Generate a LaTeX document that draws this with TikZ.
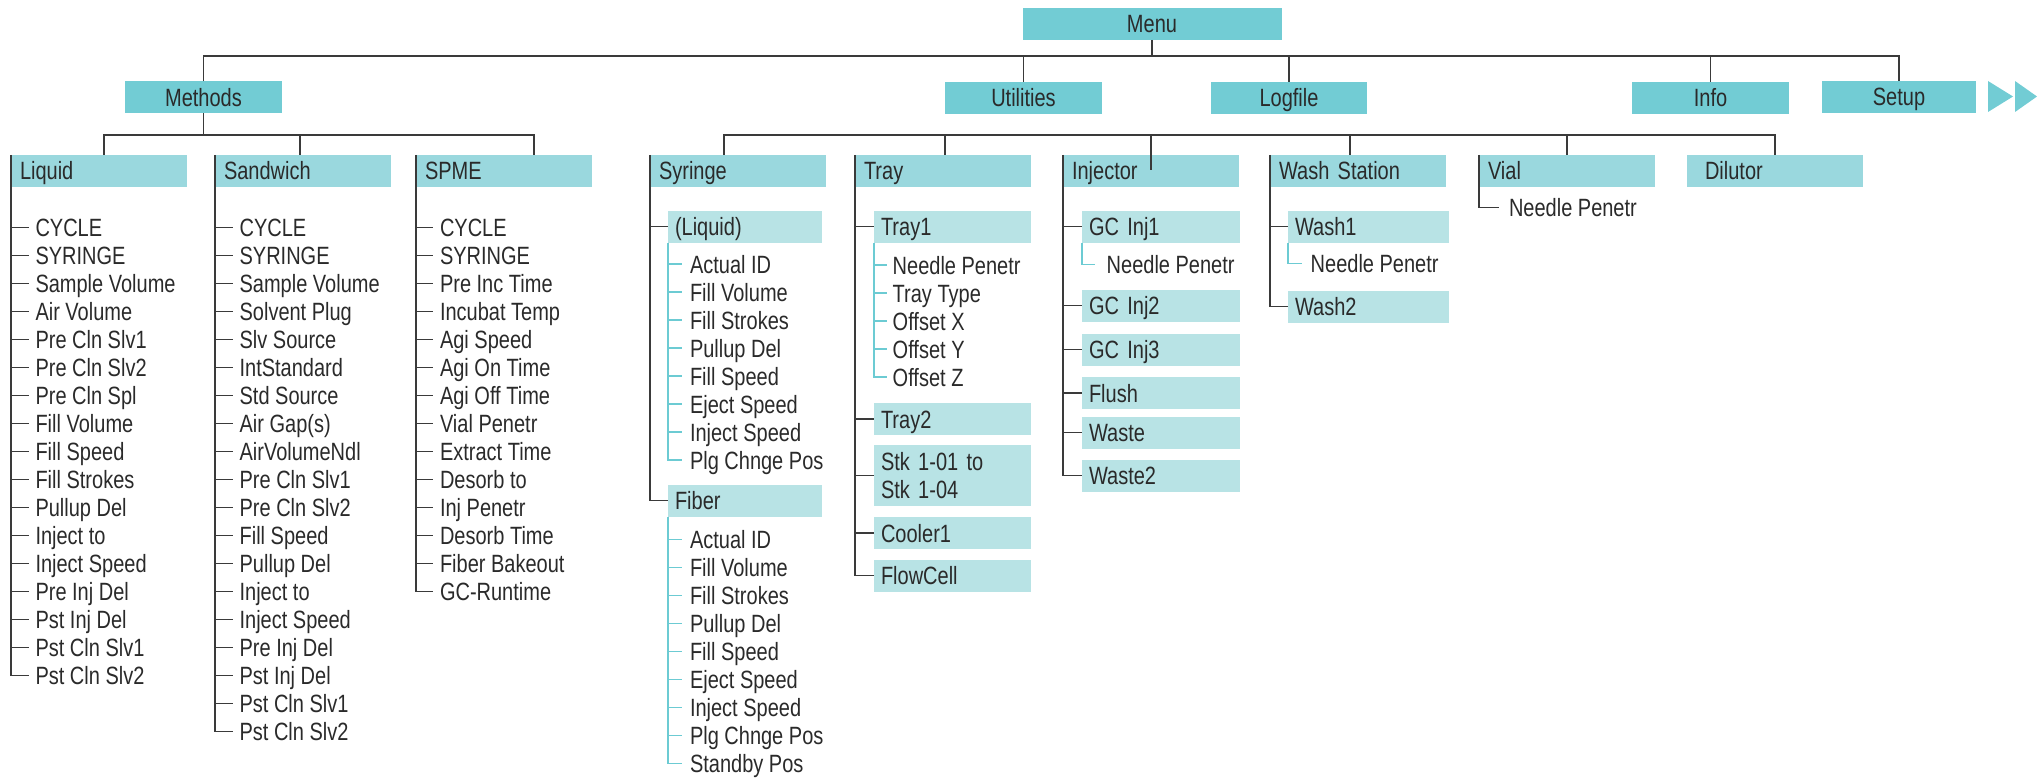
\documentclass[tikz,border=0pt]{standalone}
\usepackage{fontspec}
\setmainfont{Liberation Sans}[FakeStretch=0.8]
\definecolor{topcyan}{HTML}{72CCD4}
\definecolor{midcyan}{HTML}{9AD8DE}
\definecolor{lightcyan}{HTML}{B8E3E5}
\definecolor{linegray}{HTML}{3A3A3A}
\definecolor{linecyan}{HTML}{6CCBD3}
\definecolor{textgray}{HTML}{2A2A2A}

\begin{document}
\begin{tikzpicture}[x=1pt,y=-1pt,
    font=\fontsize{25}{28.4}\selectfont, text=textgray,
    every node/.style={outer sep=0pt},
    topbox/.style={fill=topcyan, minimum height=32pt, inner sep=0pt, text height=18pt, text depth=0pt},
    groupbox/.style={fill=midcyan, anchor=north west, minimum height=32pt, inner xsep=9pt, inner ysep=0pt,
        text width=158pt, align=left, text height=18pt, text depth=0pt},
    subbox/.style={fill=lightcyan, anchor=north west, minimum height=31.5pt, inner xsep=7pt, inner ysep=0pt,
        text width=#1, align=left, text height=18pt, text depth=0pt},
    subbox/.default=143pt,
    entry/.style={anchor=west, inner sep=0pt, text height=18pt, text depth=0pt},
    conn/.style={draw=linegray, line width=1.3pt},
    subconn/.style={draw=linecyan, line width=1.1pt}]
  \useasboundingbox (0,0) rectangle (2037,778);

  \node[topbox, minimum width=259pt] (menu) at (1152,24) {Menu};
  \node[topbox, minimum width=157pt] (methods) at (203.5,97.5) {Methods};
  \node[topbox, minimum width=157pt] (utilities) at (1023.5,98) {Utilities};
  \node[topbox, minimum width=156pt] (logfile) at (1289,98) {Logfile};
  \node[topbox, minimum width=157pt] (info) at (1710.5,98) {Info};
  \node[topbox, minimum width=154pt] (setup) at (1899,97) {Setup};
  \fill[topcyan] ([xshift=12pt]setup.north east) -- ++(25,15.5) -- ++(-25,15.5) -- cycle;
  \fill[topcyan] ([xshift=39pt]setup.north east) -- ++(22,15.5) -- ++(-22,15.5) -- cycle;

  \draw[conn] (methods.north) -- ++(0,-25.5) -| (setup.north);
  \draw[conn] (menu.south) -- ++(0,16);
  \draw[conn] (utilities.north) -- ++(0,-26);
  \draw[conn] (logfile.north) -- ++(0,-26);
  \draw[conn] (info.north) -- ++(0,-26);

  \node[groupbox] (liquid) at (11,155) {Liquid};
  \node[groupbox] (sandwich) at (215,155) {Sandwich};
  \node[groupbox] (spme) at (416,155) {SPME};
  \node[groupbox] (syringe) at (650,155) {Syringe};
  \node[groupbox] (tray) at (855,155) {Tray};
  \node[groupbox] (injector) at (1063,155) {Injector};
  \node[groupbox] (washst) at (1270,155) {Wash Station};
  \node[groupbox] (vial) at (1479,155) {Vial};
  \node[groupbox, inner xsep=18pt, text width=140pt] (dilutor) at (1687,155) {Dilutor};

  \draw[conn] (methods.south) -- ++(0,22);
  \draw[conn] ([xshift=5pt]liquid.north) -- ++(0,-20) -| ([xshift=30pt]spme.north);
  \draw[conn] ([xshift=-3pt]sandwich.north) -- ++(0,-20);

  \draw[conn] ([xshift=-14pt]syringe.north) -- ++(0,-20) -| (dilutor.north);
  \draw[conn] ([xshift=2pt]tray.north) -- ++(0,-20);
  \draw[conn] (injector.north) ++(0,-20) -- ++(0,35);
  \draw[conn] ([xshift=-8pt]washst.north) -- ++(0,-20);
  \draw[conn] (vial.north) -- ++(0,-20);

  \foreach \t [count=\i] in {CYCLE, SYRINGE, Sample Volume, Air Volume, Pre Cln Slv1, Pre Cln Slv2,
      Pre Cln Spl, Fill Volume, Fill Speed, Fill Strokes, Pullup Del, Inject to, Inject Speed,
      Pre Inj Del, Pst Inj Del, Pst Cln Slv1, Pst Cln Slv2} {
    \node[entry] (liq-\i) at (35.5,{199.7+28*\i}) {\t};
    \draw[conn] (liquid.north west |- liq-\i.west) -- ([xshift=-7pt]liq-\i.west);
  }
  \draw[conn] (liquid.north west) |- ([xshift=-7pt]liq-17.west);

  \foreach \t [count=\i] in {CYCLE, SYRINGE, Sample Volume, Solvent Plug, Slv Source, IntStandard,
      Std Source, Air Gap(s), AirVolumeNdl, Pre Cln Slv1, Pre Cln Slv2, Fill Speed, Pullup Del,
      Inject to, Inject Speed, Pre Inj Del, Pst Inj Del, Pst Cln Slv1, Pst Cln Slv2} {
    \node[entry] (sw-\i) at (239.6,{199.7+28*\i}) {\t};
    \draw[conn] (sandwich.north west |- sw-\i.west) -- ([xshift=-7pt]sw-\i.west);
  }
  \draw[conn] (sandwich.north west) |- ([xshift=-7pt]sw-19.west);

  \foreach \t [count=\i] in {CYCLE, SYRINGE, Pre Inc Time, Incubat Temp, Agi Speed, Agi On Time,
      Agi Off Time, Vial Penetr, Extract Time, Desorb to, Inj Penetr, Desorb Time, Fiber Bakeout,
      GC-Runtime} {
    \node[entry] (sp-\i) at (440,{199.7+28*\i}) {\t};
    \draw[conn] (spme.north west |- sp-\i.west) -- ([xshift=-7pt]sp-\i.west);
  }
  \draw[conn] (spme.north west) |- ([xshift=-7pt]sp-14.west);

  \node[subbox=140pt] (syrliq) at (668,211) {(Liquid)};
  \node[subbox=140pt] (fiber) at (668,485) {Fiber};
  \draw[conn] (syringe.north west |- syrliq.west) -- (syrliq.west);
  \draw[conn] (syringe.north west) |- (fiber.west);
  \foreach \t [count=\i] in {Actual ID, Fill Volume, Fill Strokes, Pullup Del, Fill Speed,
      Eject Speed, Inject Speed, Plg Chnge Pos} {
    \node[entry] (sl-\i) at (690,{236+28*\i}) {\t};
    \draw[subconn] (syrliq.south west |- sl-\i.west) -- ([xshift=-8pt]sl-\i.west);
  }
  \draw[subconn] (syrliq.south west) |- ([xshift=-8pt]sl-8.west);
  \foreach \t [count=\i] in {Actual ID, Fill Volume, Fill Strokes, Pullup Del, Fill Speed,
      Eject Speed, Inject Speed, Plg Chnge Pos, Standby Pos} {
    \node[entry] (fb-\i) at (690,{511.3+28*\i}) {\t};
    \draw[subconn] (fiber.south west |- fb-\i.west) -- ([xshift=-8pt]fb-\i.west);
  }
  \draw[subconn] (fiber.south west) |- ([xshift=-8pt]fb-9.west);

  \node[subbox] (tray1) at (874,211) {Tray1};
  \node[subbox] (tray2) at (874,403.3) {Tray2};
  \node[subbox, text depth=28.4pt, minimum height=60.7pt] (stk) at (874,445) {Stk 1-01 to\\Stk 1-04};
  \node[subbox] (cooler) at (874,517.3) {Cooler1};
  \node[subbox] (flowcell) at (874,560) {FlowCell};
  \foreach \n in {tray1,tray2,stk,cooler}
    \draw[conn] (tray.north west |- \n.west) -- (\n.west);
  \draw[conn] (tray.north west) |- (flowcell.west);
  \foreach \t [count=\i] in {Needle Penetr, Tray Type, Offset X, Offset Y, Offset Z} {
    \node[entry] (tr-\i) at (892.7,{237+28*\i}) {\t};
    \draw[subconn] (tray1.south west |- tr-\i.west) -- ([xshift=-6pt]tr-\i.west);
  }
  \draw[subconn] (tray1.south west) |- ([xshift=-6pt]tr-5.west);

  \node[subbox=144pt] (gcinj1) at (1082,211) {GC Inj1};
  \node[subbox=144pt] (gcinj2) at (1082,290) {GC Inj2};
  \node[subbox=144pt] (gcinj3) at (1082,334) {GC Inj3};
  \node[subbox=144pt] (flush) at (1082,377.3) {Flush};
  \node[subbox=144pt] (waste) at (1082,417) {Waste};
  \node[subbox=144pt] (waste2) at (1082,460) {Waste2};
  \foreach \n in {gcinj1,gcinj2,gcinj3,flush,waste}
    \draw[conn] (injector.north west |- \n.west) -- (\n.west);
  \draw[conn] (injector.north west) |- (waste2.west);
  \node[entry] (gcneedle) at (1106.7,264.3) {Needle Penetr};
  \draw[subconn] (gcinj1.south west) |- ([xshift=-11.7pt]gcneedle.west);

  \node[subbox=147pt] (wash1) at (1288,211) {Wash1};
  \node[subbox=147pt] (wash2) at (1288,291) {Wash2};
  \draw[conn] (washst.north west |- wash1.west) -- (wash1.west);
  \draw[conn] (washst.north west) |- (wash2.west);
  \node[entry] (washneedle) at (1310.7,263.7) {Needle Penetr};
  \draw[subconn] (wash1.south west) |- ([xshift=-9pt]washneedle.west);

  \node[entry] (vialneedle) at (1509,207.7) {Needle Penetr};
  \draw[conn] (vial.north west) |- ([xshift=-9.6pt]vialneedle.west);
\end{tikzpicture}
\end{document}
